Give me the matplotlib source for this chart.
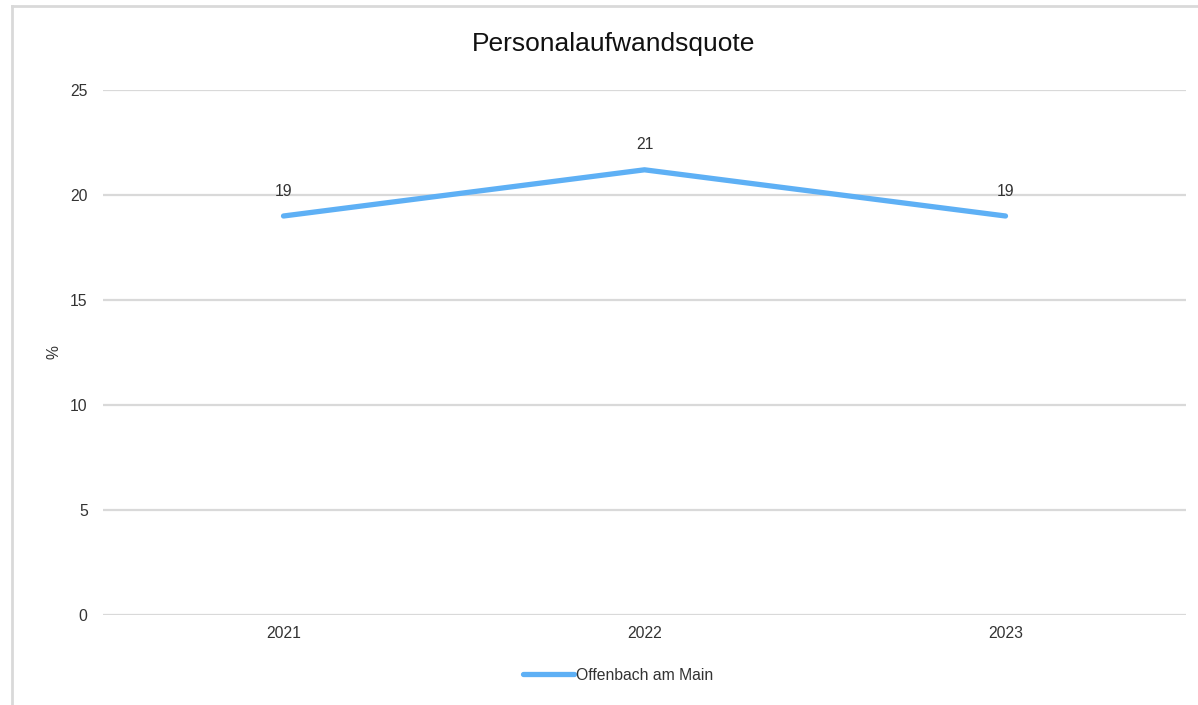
import matplotlib
matplotlib.use("Agg")
import matplotlib.pyplot as plt
from matplotlib.lines import Line2D

# === DATA ===
years = ["2021", "2022", "2023"]
quote = [19.0, 21.2, 19.0]
labels = ["19", "21", "19"]
series_name = "Offenbach am Main"
y_ticks = [0, 5, 10, 15, 20, 25]

plt.rcParams["font.family"] = ["Liberation Sans", "DejaVu Sans"]
FS = 11.3

W, H = 1198, 705
fig = plt.figure(figsize=(W / 100, H / 100), dpi=100)
ax = fig.add_axes([103 / W, 1 - 615 / H, (1186 - 103) / W, (615 - 90) / H])

x = [i + 0.5 for i in range(len(years))]
ax.plot(x, quote, color="#5eb0f5", lw=3.8, solid_capstyle="round",
        label=series_name, zorder=3)
for xi, yi, t in zip(x, quote, labels):
    ax.annotate(t, (xi, yi), xytext=(0, 12.5), textcoords="offset points",
                ha="center", va="bottom", fontsize=FS, color="#333333")

ax.set_xlim(0, len(years))
ax.set_ylim(0, 25)
ax.set_xticks(x)
ax.set_xticklabels(years)
ax.set_yticks(y_ticks)
ax.tick_params(axis="both", length=0, labelsize=FS, labelcolor="#333333")
ax.tick_params(axis="y", pad=11)
ax.tick_params(axis="x", pad=8)
ax.grid(axis="y", color="#d9d9d9", lw=1.6)
ax.set_axisbelow(True)
for s in ax.spines.values():
    s.set_visible(False)

ax.set_ylabel("%", fontsize=FS, color="#333333", labelpad=6)
fig.text(614 / W, 1 - 44 / H, "Personalaufwandsquote", ha="center", va="center",
         fontsize=19, color="#111111")

handle = Line2D([], [], color="#5eb0f5", lw=3.8, solid_capstyle="round")
fig.legend([handle], [series_name], loc="center", bbox_to_anchor=(618 / W, 1 - 675 / H),
           frameon=False, fontsize=FS, handlelength=3.3, handletextpad=0.1,
           labelcolor="#333333")

# outer frame (only left and top visible in the crop)
fig.add_artist(Line2D([12 / W, 12 / W], [0, 1 - 6 / H], color="#d9d9d9", lw=2,
                      transform=fig.transFigure))
fig.add_artist(Line2D([12 / W, 1], [1 - 6 / H, 1 - 6 / H], color="#d9d9d9", lw=2,
                      transform=fig.transFigure))

fig.savefig("out.png", dpi=100, facecolor="white")
